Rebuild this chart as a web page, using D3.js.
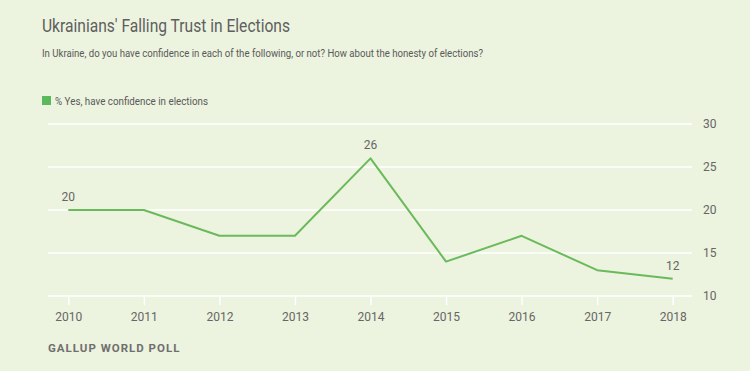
<!DOCTYPE html>
<html>
<head>
<meta charset="utf-8">
<script src="https://cdn.jsdelivr.net/npm/d3@7"></script>
<style>
  body { margin: 0; background: #ecf3de; }
  svg { display: block; font-family: Roboto, "Noto Sans", sans-serif; }
</style>
</head>
<body>
<div id="chart"></div>
<script>
const years = [2010, 2011, 2012, 2013, 2014, 2015, 2016, 2017, 2018];
const yesValues = [20, 20, 17, 17, 26, 14, 17, 13, 12];
const labeledYears = [2010, 2014, 2018];
const yTicks = [10, 15, 20, 25, 30];

const W = 750, H = 371;
const margin = { top: 124, right: 58, bottom: 75, left: 48 };

const svg = d3.select("#chart").append("svg")
    .attr("width", W)
    .attr("height", H);

svg.append("rect").attr("width", W).attr("height", H).attr("fill", "#ecf3de");

// titel + untertitel
svg.append("text")
    .attr("x", 42).attr("y", 32)
    .attr("font-size", 19).attr("fill", "#5e5e5e")
    .attr("textLength", 248).attr("lengthAdjust", "spacingAndGlyphs")
    .text("Ukrainians' Falling Trust in Elections");

svg.append("text")
    .attr("x", 42).attr("y", 57)
    .attr("font-size", 11.5).attr("fill", "#5a5a5a")
    .attr("textLength", 441).attr("lengthAdjust", "spacingAndGlyphs")
    .text("In Ukraine, do you have confidence in each of the following, or not? How about the honesty of elections?");

// legende
svg.append("rect")
    .attr("x", 42).attr("y", 96).attr("width", 9).attr("height", 9)
    .attr("fill", "#5cb85c");
svg.append("text")
    .attr("x", 55).attr("y", 104.5)
    .attr("font-size", 11).attr("fill", "#5a5a5a")
    .attr("textLength", 153).attr("lengthAdjust", "spacingAndGlyphs")
    .text("% Yes, have confidence in elections");

const x = d3.scalePoint()
    .domain(years)
    .range([68.3, 672.7]);

const y = d3.scaleLinear()
    .domain([10, 30])
    .range([296, 124]);

const g = svg.append("g");

// gitterlinien
g.selectAll(".grid")
    .data(yTicks)
    .enter().append("line")
    .attr("x1", margin.left).attr("x2", 692)
    .attr("y1", d => y(d)).attr("y2", d => y(d))
    .attr("stroke", "#ffffff").attr("stroke-width", 1.5);

// y-achse rechts
g.selectAll(".ylab")
    .data(yTicks)
    .enter().append("text")
    .attr("x", 703).attr("y", d => y(d) + 4)
    .attr("font-size", 12).attr("fill", "#666")
    .text(d => d);

// x-achse
const xAxis = g.append("g")
    .attr("transform", `translate(0,${y(10)})`)
    .call(d3.axisBottom(x).tickSize(9).tickPadding(7).tickFormat(d => d));
xAxis.select(".domain").remove();
xAxis.selectAll(".tick line").attr("stroke", "#ffffff").attr("stroke-width", 1.5);
xAxis.selectAll(".tick text")
    .attr("font-size", 12).attr("fill", "#666")
    .attr("font-family", "Roboto, 'Noto Sans', sans-serif");

// linie
const line = d3.line()
    .x((d, i) => x(years[i]))
    .y(d => y(d));

g.append("path")
    .datum(yesValues)
    .attr("fill", "none")
    .attr("stroke", "#6aba5c")
    .attr("stroke-width", 2)
    .attr("stroke-linejoin", "round")
    .attr("d", line);

// werte-beschriftung
g.selectAll(".vlab")
    .data(labeledYears)
    .enter().append("text")
    .attr("x", d => x(d))
    .attr("y", d => y(yesValues[years.indexOf(d)]) - 9)
    .attr("text-anchor", "middle")
    .attr("font-size", 12).attr("fill", "#666")
    .text(d => yesValues[years.indexOf(d)]);

// quelle
svg.append("text")
    .attr("x", 48).attr("y", 352)
    .attr("font-size", 11.5).attr("font-weight", "bold")
    .attr("letter-spacing", 1).attr("fill", "#6f6f6f")
    .text("GALLUP WORLD POLL");
</script>
</body>
</html>
